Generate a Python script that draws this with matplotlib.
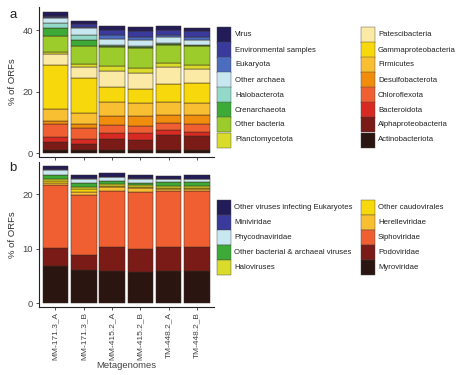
import matplotlib
matplotlib.use("Agg")
import matplotlib.pyplot as plt
from matplotlib.patches import Rectangle
import numpy as np

plt.rcParams['font.family'] = ['Liberation Sans', 'DejaVu Sans']

samples = ["MM-171.3_A", "MM-171.3_B", "MM-415.2_A", "MM-415.2_B", "TM-448.2_A", "TM-448.2_B"]

# Panel a: stacked bottom -> top
taxa = ["Actinobacteriota", "Alphaproteobacteria", "Bacteroidota", "Chloroflexota",
        "Desulfobacterota", "Firmicutes", "Gammaproteobacteria", "Patescibacteria",
        "Planctomycetota", "Other bacteria", "Crenarchaeota", "Halobacterota",
        "Other archaea", "Eukaryota", "Environmental samples", "Virus"]
taxa_values = {
    "Actinobacteriota":      [1.1, 1.1, 1.1, 1.1, 1.1, 1.1],
    "Alphaproteobacteria":   [2.7, 1.9, 3.4, 3.2, 4.8, 4.5],
    "Bacteroidota":          [1.4, 1.5, 2.2, 2.2, 1.7, 1.4],
    "Chloroflexota":         [4.2, 3.6, 2.5, 2.4, 2.1, 2.5],
    "Desulfobacterota":      [1.2, 1.4, 2.9, 3.2, 2.7, 2.9],
    "Firmicutes":            [3.7, 3.7, 4.6, 4.3, 4.3, 4.0],
    "Gammaproteobacteria":   [14.5, 11.1, 4.9, 4.4, 5.8, 6.3],
    "Patescibacteria":       [3.3, 3.8, 5.2, 5.4, 5.4, 4.5],
    "Planctomycetota":       [0.7, 0.8, 1.5, 1.4, 1.5, 1.4],
    "Other bacteria":        [5.4, 5.8, 6.1, 6.6, 5.8, 6.1],
    "Crenarchaeota":         [2.4, 2.2, 0.3, 0.3, 0.3, 0.3],
    "Halobacterota":         [1.7, 1.6, 0.3, 0.2, 0.3, 0.2],
    "Other archaea":         [1.6, 2.0, 2.2, 2.2, 1.8, 1.7],
    "Eukaryota":             [0.4, 0.5, 1.1, 0.9, 0.9, 0.9],
    "Environmental samples": [0.4, 0.9, 1.8, 2.0, 1.6, 2.0],
    "Virus":                 [1.2, 1.1, 1.1, 1.1, 1.1, 0.8],
}
taxa_colors = {
    "Virus": "#221d58", "Environmental samples": "#3a3a9c", "Eukaryota": "#4c6cc0",
    "Other archaea": "#c9e7f1", "Halobacterota": "#92d9ca", "Crenarchaeota": "#3da936",
    "Other bacteria": "#9ccb2c", "Planctomycetota": "#d9dc2a",
    "Patescibacteria": "#fbe9a6", "Gammaproteobacteria": "#f6d80c", "Firmicutes": "#f8bf32",
    "Desulfobacterota": "#f08d0c", "Chloroflexota": "#ef5f32", "Bacteroidota": "#d62a22",
    "Alphaproteobacteria": "#7a1b17", "Actinobacteriota": "#2b1511",
}
legend_a_col1 = ["Virus", "Environmental samples", "Eukaryota", "Other archaea",
                 "Halobacterota", "Crenarchaeota", "Other bacteria", "Planctomycetota"]
legend_a_col2 = ["Patescibacteria", "Gammaproteobacteria", "Firmicutes", "Desulfobacterota",
                 "Chloroflexota", "Bacteroidota", "Alphaproteobacteria", "Actinobacteriota"]

# Panel b: stacked bottom -> top
viruses = ["Myroviridae", "Podoviridae", "Siphoviridae", "Herelleviridae", "Other caudovirales",
           "Haloviruses", "Other bacterial & archaeal viruses", "Phycodnaviridae",
           "Miniviridae", "Other viruses infecting Eukaryotes"]
virus_values = {
    "Myroviridae":                        [6.85, 6.2, 6.0, 5.8, 6.0, 5.9],
    "Podoviridae":                        [3.25, 2.7, 4.3, 4.1, 4.3, 4.4],
    "Siphoviridae":                       [11.6, 11.0, 10.4, 10.6, 10.3, 10.4],
    "Herelleviridae":                     [0.4, 0.6, 0.6, 0.6, 0.4, 0.3],
    "Other caudovirales":                 [0.4, 0.4, 0.2, 0.2, 0.2, 0.2],
    "Haloviruses":                        [0.4, 0.5, 0.4, 0.4, 0.4, 0.4],
    "Other bacterial & archaeal viruses": [0.6, 0.7, 0.6, 0.4, 0.6, 0.6],
    "Phycodnaviridae":                    [1.0, 0.8, 0.6, 0.8, 0.6, 0.6],
    "Miniviridae":                        [0.2, 0.1, 0.1, 0.1, 0.1, 0.1],
    "Other viruses infecting Eukaryotes": [0.5, 0.6, 0.7, 0.5, 0.5, 0.6],
}
virus_colors = {
    "Other viruses infecting Eukaryotes": "#221d58", "Miniviridae": "#3a3a9c",
    "Phycodnaviridae": "#c9e7f1", "Other bacterial & archaeal viruses": "#3da936",
    "Haloviruses": "#d9dc2a", "Other caudovirales": "#f6d80c", "Herelleviridae": "#f8bf32",
    "Siphoviridae": "#ef5f32", "Podoviridae": "#7a1b17", "Myroviridae": "#2b1511",
}
legend_b_col1 = ["Other viruses infecting Eukaryotes", "Miniviridae", "Phycodnaviridae",
                 "Other bacterial & archaeal viruses", "Haloviruses"]
legend_b_col2 = ["Other caudovirales", "Herelleviridae", "Siphoviridae", "Podoviridae", "Myroviridae"]

W, H = 474, 375
fig = plt.figure(figsize=(W / 100, H / 100), dpi=100)

def fx(px):
    return px / W

def fy(py):
    return 1 - py / H

def make_axes(top_px, bottom_px):
    return fig.add_axes([fx(38.5), fy(bottom_px), fx(214 - 38.5), (bottom_px - top_px) / H])

ax_a = make_axes(6.9, 156.7)
ax_b = make_axes(161.6, 306.7)

x = np.arange(len(samples))

def stack(ax, order, values, colors):
    bottom = np.zeros(len(samples))
    for name in order:
        v = np.array(values[name])
        ax.bar(x, v, bottom=bottom, width=0.9, color=colors[name],
               edgecolor="#3a2a20", linewidth=0.35)
        bottom += v

stack(ax_a, taxa, taxa_values, taxa_colors)
stack(ax_b, viruses, virus_values, virus_colors)

ax_a.set_ylim(-1.1, 47.5)
ax_b.set_ylim(-0.6, 26.0)
ax_a.set_yticks([0, 20, 40])
ax_b.set_yticks([0, 10, 20])
for ax in (ax_a, ax_b):
    ax.set_xlim(-0.6, 5.6)
    ax.set_xticks(x)
    for s in ("top", "right"):
        ax.spines[s].set_visible(False)
    for s in ("left", "bottom"):
        ax.spines[s].set_linewidth(0.8)
        ax.spines[s].set_color("#222222")
    ax.tick_params(axis="both", length=2.5, width=0.6, color="#333333",
                   labelsize=6.8, labelcolor="#444444", pad=1.5)
    ax.set_ylabel("% of ORFs", fontsize=6.8, color="#333333", labelpad=4)
ax_a.set_xticklabels([])
ax_b.set_xticklabels(samples, rotation=90, fontsize=6.0)
fig.text(fx(126), fy(365), "Metagenomes", fontsize=6.8, color="#444444",
         ha="center", va="center")

fig.text(fx(9), fy(15), "a", fontsize=9.5, color="#222222", va="center", ha="left")
fig.text(fx(9), fy(168), "b", fontsize=9.5, color="#222222", va="center", ha="left")

def draw_legend(names, colors, x_sw, y_first_center, step=15.0, sw=14.0, x_txt=None):
    for i, name in enumerate(names):
        cy = y_first_center + i * step
        fig.add_artist(Rectangle((fx(x_sw), fy(cy + step / 2)), sw / W, step / H,
                                 transform=fig.transFigure, facecolor=colors[name],
                                 edgecolor="#444444", linewidth=0.3))
        fig.text(fx(x_txt), fy(cy), name, fontsize=5.6, color="#222222",
                 va="center", ha="left")

draw_legend(legend_a_col1, taxa_colors, 216.5, 35.0, x_txt=235)
draw_legend(legend_a_col2, taxa_colors, 360.5, 35.0, x_txt=378)
draw_legend(legend_b_col1, virus_colors, 216.5, 207.7, x_txt=234)
draw_legend(legend_b_col2, virus_colors, 360.5, 207.7, x_txt=378)

fig.savefig("out.png", dpi=100)
